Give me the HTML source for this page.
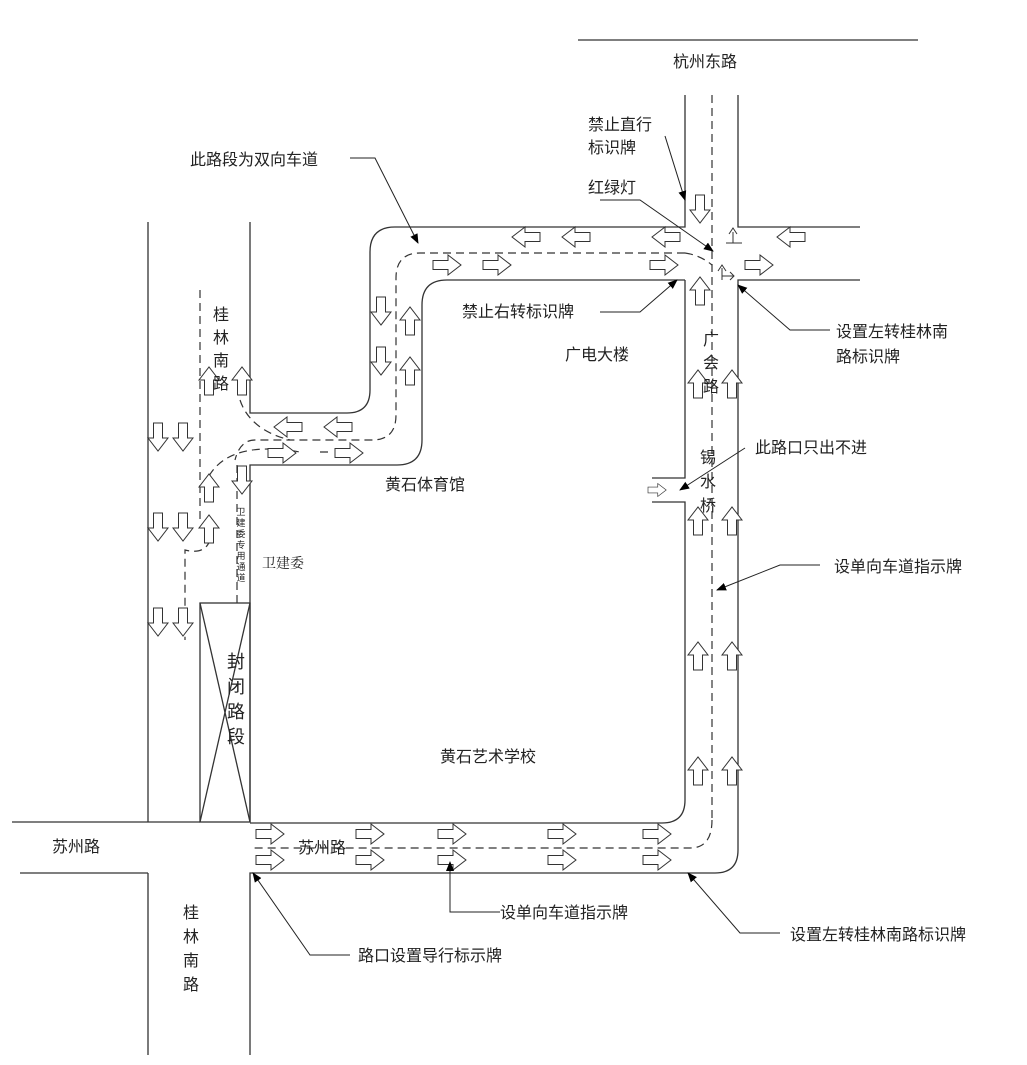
<!DOCTYPE html>
<html><head><meta charset="utf-8"><style>
body{margin:0;background:#fff}
svg{display:block}
text{font-family:"Liberation Sans","Noto Sans CJK SC",sans-serif;font-size:16px;fill:#222}
text.s{font-size:9px}
</style></head><body>
<svg width="1027" height="1065" viewBox="0 0 1027 1065">
<defs>
<marker id="ah" markerWidth="10" markerHeight="10" refX="9" refY="5" orient="auto" markerUnits="userSpaceOnUse"><path d="M0,1 L10,5 L0,9 Z" fill="#000"/></marker>
<path id="ar" d="M0,-4.5 L15,-4.5 L15,-10 L28,0 L15,10 L15,4.5 L0,4.5 Z" fill="#fff" stroke="#333" stroke-width="1"/>
</defs>
<g fill="none" stroke="#333" stroke-width="1.3">
<line x1="578" y1="40" x2="918" y2="40"/>
<path d="M685,95 V227 H395 Q370,227 370,252 V390 Q370,413 347,413 H250 V222"/>
<path d="M738,95 V227 H860"/>
<path d="M860,280 H738 V850 Q738,873 715,873 H250 V1055"/>
<path d="M685,280 H447 Q422,280 422,305 V440 Q422,465 397,465 H250 V822"/>
<path d="M685,280 V478 H652 M652,502 H685 V800 Q685,823 662,823 H250"/>
<line x1="148" y1="222" x2="148" y2="822"/>
<line x1="12" y1="822" x2="200" y2="822"/>
<line x1="20" y1="873" x2="148" y2="873"/>
<line x1="148" y1="873" x2="148" y2="1055"/>
<rect x="200" y="603" width="50" height="219"/>
<line x1="200" y1="603" x2="250" y2="822"/>
<line x1="250" y1="603" x2="200" y2="822"/>
</g>
<g fill="none" stroke="#333" stroke-width="1.2" stroke-dasharray="8,5">
<line x1="712" y1="95" x2="712" y2="820"/>
<path d="M712,820 Q712,848 690,848 H250"/>
<path d="M685,253 H420 Q396,253 396,278 V415 Q396,440 372,440 H255 Q240,440 235,460"/>
<line x1="200" y1="290" x2="200" y2="520"/>
<path d="M240,400 Q250,430 290,440"/>
<path d="M209,476 Q230,440 300,452 M320,452 L330,452"/>
<line x1="237" y1="465" x2="237" y2="603"/>
<path d="M210,540 Q205,555 185,550 L185,640"/>
<path d="M685,253 Q700,255 712,265"/>
</g>
<g>
<use href="#ar" transform="translate(540,237) rotate(180)"/>
<use href="#ar" transform="translate(590,237) rotate(180)"/>
<use href="#ar" transform="translate(680,237) rotate(180)"/>
<use href="#ar" transform="translate(805,237) rotate(180)"/>
<use href="#ar" transform="translate(433,265)"/>
<use href="#ar" transform="translate(483,265)"/>
<use href="#ar" transform="translate(650,265)"/>
<use href="#ar" transform="translate(745,265)"/>
<use href="#ar" transform="translate(700,195) rotate(90)"/>
<use href="#ar" transform="translate(700,305) rotate(-90)"/>
<use href="#ar" transform="translate(381,297) rotate(90)"/>
<use href="#ar" transform="translate(381,347) rotate(90)"/>
<use href="#ar" transform="translate(410,335) rotate(-90)"/>
<use href="#ar" transform="translate(410,385) rotate(-90)"/>
<use href="#ar" transform="translate(302,427) rotate(180)"/>
<use href="#ar" transform="translate(352,427) rotate(180)"/>
<use href="#ar" transform="translate(268,453)"/>
<use href="#ar" transform="translate(335,453)"/>
<use href="#ar" transform="translate(209,395) rotate(-90)"/>
<use href="#ar" transform="translate(242,395) rotate(-90)"/>
<use href="#ar" transform="translate(158,423) rotate(90)"/>
<use href="#ar" transform="translate(183,423) rotate(90)"/>
<use href="#ar" transform="translate(242,466) rotate(90)"/>
<use href="#ar" transform="translate(209,502) rotate(-90)"/>
<use href="#ar" transform="translate(209,543) rotate(-90)"/>
<use href="#ar" transform="translate(158,513) rotate(90)"/>
<use href="#ar" transform="translate(183,513) rotate(90)"/>
<use href="#ar" transform="translate(158,608) rotate(90)"/>
<use href="#ar" transform="translate(183,608) rotate(90)"/>
<use href="#ar" transform="translate(698,398) rotate(-90)"/>
<use href="#ar" transform="translate(732,398) rotate(-90)"/>
<use href="#ar" transform="translate(698,535) rotate(-90)"/>
<use href="#ar" transform="translate(732,535) rotate(-90)"/>
<use href="#ar" transform="translate(698,670) rotate(-90)"/>
<use href="#ar" transform="translate(732,670) rotate(-90)"/>
<use href="#ar" transform="translate(698,785) rotate(-90)"/>
<use href="#ar" transform="translate(732,785) rotate(-90)"/>
<use href="#ar" transform="translate(648,490) scale(0.65)"/>
<use href="#ar" transform="translate(256,834)"/><use href="#ar" transform="translate(356,834)"/><use href="#ar" transform="translate(438,834)"/><use href="#ar" transform="translate(548,834)"/><use href="#ar" transform="translate(643,834)"/>
<use href="#ar" transform="translate(256,860)"/><use href="#ar" transform="translate(356,860)"/><use href="#ar" transform="translate(438,860)"/><use href="#ar" transform="translate(548,860)"/><use href="#ar" transform="translate(643,860)"/>
</g>
<g fill="none" stroke="#333" stroke-width="1">
<path d="M733,243 V232 M729,234 L733,228 L737,234 M733,243 H742 M733,243 H726"/>
<path d="M722,280 V268 M718,271 L722,265 L726,271 M722,280 V276 H734 M730,272 L734,276 L730,280"/>
</g>
<g fill="none" stroke="#222" stroke-width="1">
<path d="M350,158 H375 L418,243" marker-end="url(#ah)"/>
<path d="M665,136 L685,200" marker-end="url(#ah)"/>
<path d="M600,200 H640 L713,251" marker-end="url(#ah)"/>
<path d="M600,312 H640 L677,280" marker-end="url(#ah)"/>
<path d="M830,330 H790 L738,285" marker-end="url(#ah)"/>
<path d="M745,448 L680,490" marker-end="url(#ah)"/>
<path d="M820,565 H780 L717,590" marker-end="url(#ah)"/>
<path d="M500,912 H450 V862" marker-end="url(#ah)"/>
<path d="M350,955 H310 L253,873" marker-end="url(#ah)"/>
<path d="M780,933 H740 L688,873" marker-end="url(#ah)"/>
</g>
<text x="673" y="67">杭州东路</text>
<text x="588" y="130">禁止直行</text>
<text x="588" y="153">标识牌</text>
<text x="588" y="193">红绿灯</text>
<text x="190" y="165">此路段为双向车道</text>
<text x="462" y="317">禁止右转标识牌</text>
<text x="836" y="337">设置左转桂林南</text>
<text x="836" y="362">路标识牌</text>
<text x="565" y="360">广电大楼</text>
<text x="703" y="345">广</text><text x="703" y="368">会</text><text x="703" y="392">路</text>
<text x="700" y="463">锡</text><text x="700" y="487">水</text><text x="700" y="511">桥</text>
<text x="755" y="453">此路口只出不进</text>
<text x="834" y="572">设单向车道指示牌</text>
<text x="385" y="490">黄石体育馆</text>
<text x="262" y="568" style="font-size:14px;font-family:'Noto Serif CJK SC',serif">卫建委</text>
<text x="440" y="762">黄石艺术学校</text>
<text x="213" y="320">桂</text><text x="213" y="343">林</text><text x="213" y="366">南</text><text x="213" y="389">路</text>
<text x="227" y="668" style="font-size:18px">封</text><text x="227" y="693" style="font-size:18px">闭</text><text x="227" y="718" style="font-size:18px">路</text><text x="227" y="743" style="font-size:18px">段</text>
<text class="s" x="241" y="515" text-anchor="middle">卫</text><text class="s" x="241" y="526" text-anchor="middle">建</text><text class="s" x="241" y="537" text-anchor="middle">委</text><text class="s" x="241" y="548" text-anchor="middle">专</text><text class="s" x="241" y="559" text-anchor="middle">用</text><text class="s" x="241" y="570" text-anchor="middle">通</text><text class="s" x="241" y="581" text-anchor="middle">道</text>
<text x="52" y="852">苏州路</text>
<text x="298" y="853">苏州路</text>
<text x="183" y="918">桂</text><text x="183" y="942">林</text><text x="183" y="966">南</text><text x="183" y="990">路</text>
<text x="500" y="918">设单向车道指示牌</text>
<text x="358" y="961">路口设置导行标示牌</text>
<text x="790" y="940">设置左转桂林南路标识牌</text>
</svg>
</body></html>
